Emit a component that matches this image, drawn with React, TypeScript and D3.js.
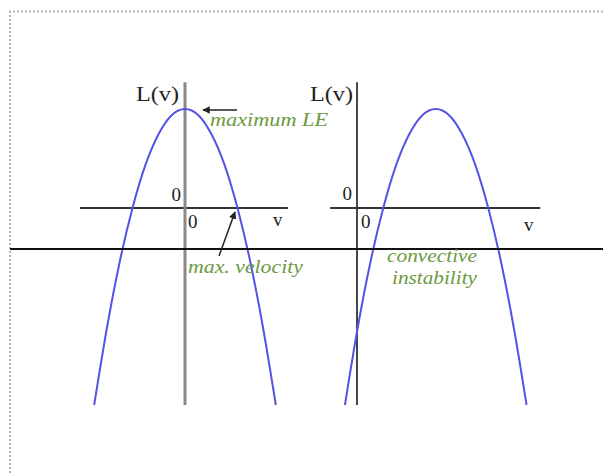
import React from "react";
import * as d3 from "d3";

// L(v) samples for the left panel: peak at v = 0
const leftV = [-1.73, -1.5, -1.25, -1, -0.75, -0.5, -0.25, 0, 0.25, 0.5, 0.75, 1, 1.25, 1.5, 1.73];
const leftL = [-1.99, -1.25, -0.56, 0, 0.44, 0.75, 0.94, 1, 0.94, 0.75, 0.44, 0, -0.56, -1.25, -1.99];

// L(v) samples for the right panel: peak shifted to positive v
const rightV = [-0.23, 0, 0.25, 0.5, 0.75, 1, 1.25, 1.5, 1.75, 2, 2.25, 2.5, 2.75, 3, 3.23];
const rightL = [-1.99, -1.25, -0.56, 0, 0.44, 0.75, 0.94, 1, 0.94, 0.75, 0.44, 0, -0.56, -1.25, -1.99];

// Axis extents in data units
const leftVRange = [-2.0, 1.96];
const rightVRange = [-0.51, 3.49];
const lRange = [-1.99, 1.27];

const BLUE = "#5353e6";
const GREEN = "#6b9a42";
const SERIF = "Liberation Serif, Times New Roman, Times, serif";

type Panel = {
  v: number[];
  l: number[];
  vRange: number[];
  origin: number; // pixel position of v = 0
  axisColor: string;
  axisWidth: number;
};

const unitV = 52.5;
const unitL = 99;
const zeroY = 208;

function makeScales(origin: number) {
  const x = d3.scaleLinear().domain([0, 1]).range([origin, origin + unitV]);
  const y = d3.scaleLinear().domain([0, 1]).range([zeroY, zeroY - unitL]);
  return { x, y };
}

function PanelView({ p }: { p: Panel }) {
  const { x, y } = makeScales(p.origin);
  const pts: [number, number][] = p.v.map((v, i) => [v, p.l[i]]);
  const line = d3
    .line<[number, number]>()
    .x((d) => x(d[0]))
    .y((d) => y(d[1]))
    .curve(d3.curveNatural);
  return (
    <g>
      <line x1={x(p.vRange[0])} x2={x(p.vRange[1])} y1={y(0)} y2={y(0)} stroke="#333" strokeWidth={1.8} />
      <line x1={x(0)} x2={x(0)} y1={y(lRange[1])} y2={y(lRange[0])} stroke={p.axisColor} strokeWidth={p.axisWidth} />
      <path d={line(pts) || ""} fill="none" stroke={BLUE} strokeWidth={2} />
    </g>
  );
}

const txt = { fontFamily: SERIF } as React.CSSProperties;
const ital = { fontFamily: SERIF, fontStyle: "italic" } as React.CSSProperties;

export default function App() {
  const left: Panel = { v: leftV, l: leftL, vRange: leftVRange, origin: 185, axisColor: "#8a8a8a", axisWidth: 3 };
  const right: Panel = { v: rightV, l: rightL, vRange: rightVRange, origin: 357, axisColor: "#333", axisWidth: 1.8 };
  const L = makeScales(185);
  const R = makeScales(357);

  return (
    <svg
      width={603}
      height={473}
      style={{ position: "absolute", left: 0, top: 0, background: "#fff" }}
    >
      <defs>
        <marker id="ah" viewBox="0 0 10 10" refX="9" refY="5" markerWidth="5" markerHeight="5" orient="auto">
          <path d="M0,0 L10,5 L0,10 z" fill="#222" />
        </marker>
      </defs>

      {/* dotted frame */}
      <line x1={9} x2={603} y1={11.5} y2={11.5} stroke="#b5b5b5" strokeWidth={2} strokeDasharray="2,2" />
      <line x1={10} x2={10} y1={11} y2={473} stroke="#b5b5b5" strokeWidth={2} strokeDasharray="2,2" />

      <PanelView p={left} />
      <PanelView p={right} />

      {/* long horizontal divider */}
      <line x1={10} x2={603} y1={249} y2={249} stroke="#111" strokeWidth={2} />

      {/* axis labels */}
      <text x={136} y={101} fontSize={20} style={txt} textLength={43} lengthAdjust="spacingAndGlyphs" fill="#222">L(v)</text>
      <text x={310} y={101} fontSize={20} style={txt} textLength={43} lengthAdjust="spacingAndGlyphs" fill="#222">L(v)</text>

      <text x={L.x(0) - 4} y={201} fontSize={19} style={txt} textAnchor="end" fill="#222">0</text>
      <text x={L.x(0) + 3} y={228} fontSize={19} style={txt} fill="#222">0</text>
      <text x={273} y={226} fontSize={19} style={txt} fill="#222">v</text>

      <text x={R.x(0) - 5} y={200} fontSize={19} style={txt} textAnchor="end" fill="#222">0</text>
      <text x={R.x(0) + 4} y={228} fontSize={19} style={txt} fill="#222">0</text>
      <text x={524} y={231} fontSize={19} style={txt} fill="#222">v</text>

      {/* annotations */}
      <line x1={237} x2={203} y1={110} y2={110} stroke="#222" strokeWidth={1.5} markerEnd="url(#ah)" />
      <text x={210} y={126} fontSize={19} style={ital} fill={GREEN} textLength={118} lengthAdjust="spacingAndGlyphs">maximum LE</text>

      <line x1={219} x2={235} y1={256} y2={212} stroke="#222" strokeWidth={1.5} markerEnd="url(#ah)" />
      <text x={188} y={273} fontSize={19} style={ital} fill={GREEN} textLength={115} lengthAdjust="spacingAndGlyphs">max. velocity</text>

      <text x={387} y={262} fontSize={19} style={ital} fill={GREEN} textLength={90} lengthAdjust="spacingAndGlyphs">convective</text>
      <text x={392} y={284} fontSize={19} style={ital} fill={GREEN} textLength={85} lengthAdjust="spacingAndGlyphs">instability</text>
    </svg>
  );
}
